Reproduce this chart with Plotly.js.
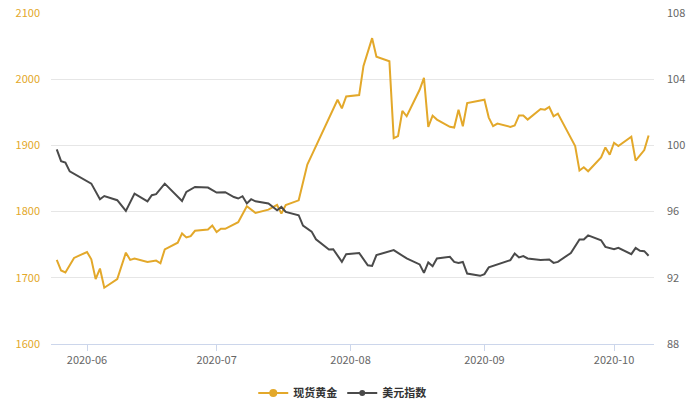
<!DOCTYPE html>
<html>
<head>
<meta charset="utf-8">
<script src="https://cdn.plot.ly/plotly-3.0.1.min.js"></script>
<style>
  html, body { margin: 0; padding: 0; background: #fff; }
  #chart { width: 700px; height: 400px; }
</style>
</head>
<body>
<div id="chart"></div>
<script>
// 现货黄金 (left axis)
var goldDates = [
  "2020-05-25", "2020-05-26", "2020-05-27", "2020-05-29", "2020-06-01", "2020-06-02",
  "2020-06-03", "2020-06-04", "2020-06-05", "2020-06-08", "2020-06-10", "2020-06-11",
  "2020-06-12", "2020-06-15", "2020-06-17", "2020-06-18", "2020-06-19", "2020-06-22",
  "2020-06-23", "2020-06-24", "2020-06-25", "2020-06-26", "2020-06-29", "2020-06-30",
  "2020-07-01", "2020-07-02", "2020-07-03", "2020-07-06", "2020-07-08", "2020-07-10",
  "2020-07-13", "2020-07-14", "2020-07-15", "2020-07-16", "2020-07-17", "2020-07-20",
  "2020-07-22", "2020-07-23", "2020-07-29", "2020-07-30", "2020-07-31", "2020-08-03",
  "2020-08-04", "2020-08-06", "2020-08-07", "2020-08-10", "2020-08-11", "2020-08-12",
  "2020-08-13", "2020-08-14", "2020-08-17", "2020-08-18", "2020-08-19", "2020-08-20",
  "2020-08-21", "2020-08-24", "2020-08-25", "2020-08-26", "2020-08-27", "2020-08-28",
  "2020-09-01", "2020-09-02", "2020-09-03", "2020-09-04", "2020-09-07", "2020-09-08",
  "2020-09-09", "2020-09-10", "2020-09-11", "2020-09-14", "2020-09-15", "2020-09-16",
  "2020-09-17", "2020-09-18", "2020-09-22", "2020-09-23", "2020-09-24", "2020-09-25",
  "2020-09-28", "2020-09-29", "2020-09-30", "2020-10-01", "2020-10-02", "2020-10-05",
  "2020-10-06", "2020-10-08", "2020-10-09"
];
var goldValues = [
  1727, 1711, 1708, 1730, 1739, 1728,
  1698, 1714, 1685, 1698, 1738, 1727,
  1729, 1724, 1726, 1722, 1743, 1753,
  1767, 1761, 1763, 1771, 1773, 1779,
  1769, 1774, 1774, 1784, 1808, 1798,
  1803, 1807, 1810, 1797, 1810, 1817,
  1871, 1885, 1969, 1956, 1974, 1976,
  2020, 2062, 2034, 2027, 1911, 1914,
  1952, 1944, 1984, 2002, 1928, 1945,
  1939, 1928, 1927, 1954, 1929, 1964,
  1969, 1942, 1929, 1933, 1928, 1930,
  1945, 1945, 1939, 1955, 1954, 1958,
  1944, 1948, 1899, 1862, 1867, 1861,
  1882, 1897, 1886, 1904, 1899, 1913,
  1877, 1893, 1915
];

// 美元指数 (right axis)
var usdDates = [
  "2020-05-25", "2020-05-26", "2020-05-27", "2020-05-28", "2020-06-02", "2020-06-04",
  "2020-06-05", "2020-06-08", "2020-06-10", "2020-06-12", "2020-06-15", "2020-06-16",
  "2020-06-17", "2020-06-19", "2020-06-23", "2020-06-24", "2020-06-26", "2020-06-29",
  "2020-07-01", "2020-07-03", "2020-07-05", "2020-07-06", "2020-07-07", "2020-07-08",
  "2020-07-09", "2020-07-10", "2020-07-13", "2020-07-15", "2020-07-16", "2020-07-17",
  "2020-07-20", "2020-07-21", "2020-07-23", "2020-07-24", "2020-07-27", "2020-07-28",
  "2020-07-30", "2020-07-31", "2020-08-03", "2020-08-05", "2020-08-06", "2020-08-07",
  "2020-08-11", "2020-08-14", "2020-08-17", "2020-08-18", "2020-08-19", "2020-08-20",
  "2020-08-21", "2020-08-24", "2020-08-25", "2020-08-26", "2020-08-27", "2020-08-28",
  "2020-08-31", "2020-09-01", "2020-09-02", "2020-09-03", "2020-09-04", "2020-09-07",
  "2020-09-08", "2020-09-09", "2020-09-10", "2020-09-11", "2020-09-14", "2020-09-16",
  "2020-09-17", "2020-09-18", "2020-09-21", "2020-09-23", "2020-09-24", "2020-09-25",
  "2020-09-28", "2020-09-29", "2020-10-01", "2020-10-02", "2020-10-05", "2020-10-06",
  "2020-10-07", "2020-10-08", "2020-10-09"
];
var usdValues = [
  99.76, 99.05, 98.96, 98.43, 97.69, 96.75,
  96.94, 96.69, 96.04, 97.09, 96.62, 96.99,
  97.05, 97.69, 96.64, 97.19, 97.49, 97.45,
  97.15, 97.17, 96.88, 96.79, 96.93, 96.49,
  96.75, 96.62, 96.49, 96.08, 96.28, 95.98,
  95.78, 95.15, 94.79, 94.33, 93.71, 93.73,
  92.96, 93.43, 93.50, 92.76, 92.72, 93.37,
  93.67, 93.17, 92.81, 92.30, 92.93, 92.70,
  93.17, 93.27, 92.96, 92.90, 92.96, 92.26,
  92.12, 92.22, 92.63, 92.72, 92.81, 93.07,
  93.47, 93.23, 93.31, 93.17, 93.07, 93.11,
  92.90, 92.96, 93.50, 94.31, 94.31, 94.56,
  94.27, 93.87, 93.73, 93.81, 93.43, 93.81,
  93.63, 93.61, 93.33
];

var goldColor = "#e3a82a";
var usdColor = "#4a4a4a";

var traces = [
  {
    x: goldDates, y: goldValues, yaxis: "y", type: "scatter", mode: "lines",
    line: { color: goldColor, width: 2 }, name: "现货黄金", showlegend: false,
    hoverinfo: "skip"
  },
  {
    x: usdDates, y: usdValues, yaxis: "y2", type: "scatter", mode: "lines",
    line: { color: usdColor, width: 2 }, name: "美元指数", showlegend: false,
    hoverinfo: "skip"
  },
  // legend entries only
  {
    x: [null], y: [null], type: "scatter", mode: "lines+markers", name: "现货黄金",
    line: { color: goldColor, width: 2 }, marker: { color: goldColor, size: 8 }
  },
  {
    x: [null], y: [null], type: "scatter", mode: "lines+markers", name: "美元指数",
    line: { color: usdColor, width: 2 }, marker: { color: usdColor, size: 6 }
  }
];

var layout = {
  width: 700,
  height: 400,
  margin: { l: 51, r: 46, t: 13, b: 56, autoexpand: false },
  paper_bgcolor: "#fff",
  plot_bgcolor: "#fff",
  font: { family: "'Noto Sans CJK SC', 'Noto Sans', sans-serif", size: 11, color: "#666" },
  showlegend: true,
  legend: {
    orientation: "h", x: 0.483, xanchor: "center", y: -0.148, yanchor: "middle",
    font: { size: 11, color: "#333", family: "'Noto Sans CJK SC', sans-serif", weight: "bold" },
    itemwidth: 30
  },
  xaxis: {
    type: "date",
    range: ["2020-05-23 16:00", "2020-10-10 06:00"],
    dtick: "M1",
    tick0: "2020-06-01",
    tickformat: "%Y-%m",
    ticks: "outside",
    ticklen: 6,
    tickcolor: "#ccd6eb",
    showline: true,
    linecolor: "#ccd6eb",
    linewidth: 1,
    showgrid: false,
    zeroline: false,
    tickfont: { size: 11, color: "#666" }
  },
  yaxis: {
    range: [1600, 2100],
    dtick: 100,
    showgrid: true,
    gridcolor: "#e6e6e6",
    zeroline: false,
    showline: false,
    ticks: "",
    ticklabelstandoff: 10,
    tickfont: { size: 11, color: goldColor }
  },
  yaxis2: {
    range: [88, 108],
    dtick: 4,
    overlaying: "y",
    side: "right",
    showgrid: false,
    zeroline: false,
    showline: false,
    ticks: "",
    ticklabelstandoff: 12,
    tickfont: { size: 11, color: "#666" }
  }
};

Plotly.newPlot("chart", traces, layout, { displayModeBar: false, staticPlot: true });
</script>
</body>
</html>
